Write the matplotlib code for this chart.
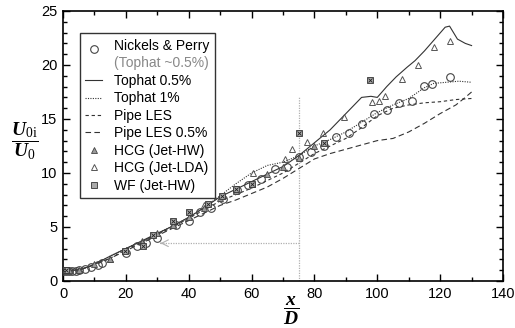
#!/usr/bin/env python3
"""Centreline velocity decay U0i/U0 against x/D for jet simulations and experiments."""

import matplotlib

matplotlib.use("Agg")
import matplotlib.pyplot as plt
from matplotlib.legend_handler import HandlerLine2D
from matplotlib.lines import Line2D
from matplotlib.ticker import MultipleLocator

# Tophat 0.5% (solid line)
TOP05_X = [0, 3, 5, 8, 11, 15, 20, 25, 30, 35, 40, 45, 50, 55, 60, 65, 70, 75, 80, 85,
           89, 92, 95, 98, 100, 103, 106, 109.5, 112, 115, 118, 121.6, 123, 125.5, 128, 130]
TOP05_Y = [1.0, 1.0, 1.05, 1.3, 1.7, 2.3, 3.0, 3.7, 4.4, 5.1, 5.9, 6.8, 7.8, 8.5, 9.2, 9.9, 10.6, 11.6, 12.8, 14.0,
           15.2, 16.1, 17.0, 17.1, 17.0, 18.0, 18.9, 19.8, 20.4, 21.3, 22.3, 23.5, 23.6, 22.4, 22.0, 21.8]

# Tophat 1% (dotted line)
TOP1_X = [0, 3, 5, 8, 11, 15, 20, 25, 30, 35, 40, 45, 50, 55, 60, 65, 70, 75, 80, 85,
          90, 95, 100, 105, 110, 115, 118, 122, 126, 130]
TOP1_Y = [1.0, 1.0, 1.05, 1.3, 1.7, 2.3, 3.0, 3.7, 4.4, 5.1, 5.9, 6.8, 7.9, 9.0, 10.0, 10.7, 11.0, 11.6, 12.5, 13.1,
          13.8, 14.7, 15.6, 16.3, 16.9, 17.9, 18.3, 18.4, 18.5, 18.4]

# Pipe LES (dashed)
PIPE_X = [0, 5, 10, 15, 20, 25, 30, 35, 40, 45, 50, 55, 60, 65, 70, 75, 80, 85, 90, 95,
          100, 105, 110, 115, 120, 125, 130]
PIPE_Y = [1.0, 1.0, 1.5, 2.1, 2.9, 3.6, 4.3, 5.0, 5.8, 6.6, 7.4, 8.0, 8.6, 9.3, 10.0, 10.9, 11.8, 12.5, 13.2, 14.2,
          15.3, 16.0, 16.3, 16.5, 16.6, 16.8, 16.9]

# Pipe LES 0.5% (long dashed)
PIPE05_X = [0, 5, 10, 15, 20, 25, 30, 35, 40, 45, 50, 55, 60, 65, 70, 75, 80, 85, 90, 95,
            100, 105, 110, 115, 120, 125, 128, 130]
PIPE05_Y = [1.0, 1.0, 1.5, 2.1, 2.8, 3.5, 4.2, 4.9, 5.6, 6.3, 7.0, 7.5, 8.1, 8.7, 9.5, 10.4, 11.3, 11.8, 12.2, 12.6,
            13.0, 13.2, 13.8, 14.6, 15.5, 16.3, 17.0, 17.5]

# Nickels & Perry (circles)
NP_X = [0, 1, 2, 3, 4, 5, 7, 9, 11, 12.5, 20, 23.5, 26.5, 30, 36, 40, 43.5, 47, 51, 55.4,
        59, 63, 67.5, 71.3, 75, 79, 83, 87, 91, 95, 99, 103, 107, 111, 115, 117.5, 123]
NP_Y = [0.95, 0.95, 0.95, 0.95, 0.95, 1.0, 1.1, 1.3, 1.5, 1.7, 2.6, 3.2, 3.5, 4.0, 5.2, 5.6, 6.4, 6.8, 7.6, 8.4,
        8.9, 9.4, 10.4, 10.6, 11.5, 11.9, 12.5, 13.3, 13.7, 14.5, 15.5, 15.8, 16.5, 16.7, 18.05, 18.2, 18.9]

# HCG (Jet-HW) (small filled triangles)
HCGHW_X = [0, 1, 2, 5, 10, 15, 20, 25, 30, 35, 40, 45, 50, 55, 60, 65, 70, 75, 80]
HCGHW_Y = [1.0, 1.0, 1.0, 1.0, 1.6, 2.0, 2.9, 3.6, 4.4, 5.2, 5.9, 6.8, 7.7, 8.3, 9.0, 9.9, 10.6, 11.4, 12.5]

# HCG (Jet-LDA) (open triangles)
HCGLDA_X = [15, 25, 35, 45, 55, 60.5, 70.7, 73, 77.6, 82.8, 89.5, 98.4, 100.6, 102.5, 108, 113, 118, 123]
HCGLDA_Y = [2.0, 3.7, 5.3, 7.0, 8.4, 10.0, 11.3, 12.2, 12.9, 13.7, 15.2, 16.6, 16.7, 17.1, 18.7, 20.0, 21.7, 22.2]

# WF (Jet-HW) (crossed squares)
WF_X = [0, 1, 19.7, 25.5, 28.7, 35, 40, 46, 50.6, 55, 60, 75, 83, 97.7]
WF_Y = [1.0, 1.0, 2.8, 3.2, 4.3, 5.6, 6.4, 7.1, 7.9, 8.5, 9.0, 13.7, 12.8, 18.6]

REF_X = 75
REF_TOP = 17.0
ARROW_Y = 3.5
ARROW_END = 31


class LoweredHandler(HandlerLine2D):
    """Draw the marker half a row lower so it sits between two label lines."""

    def create_artists(self, legend, orig_handle, xdescent, ydescent, width, height, fontsize, trans):
        return super().create_artists(legend, orig_handle, xdescent, ydescent + 0.6 * fontsize,
                                      width, height, fontsize, trans)


def setup_style() -> None:
    plt.rcParams["font.family"] = ["Liberation Sans", "DejaVu Sans"]
    plt.rcParams["mathtext.fontset"] = "custom"
    plt.rcParams["mathtext.rm"] = "Liberation Serif"
    plt.rcParams["mathtext.it"] = "Liberation Serif:italic"
    plt.rcParams["mathtext.bf"] = "Liberation Serif:bold:italic"


def main() -> None:
    setup_style()
    fig = plt.figure(figsize=(5.15, 3.28), dpi=100)
    ax = fig.add_axes([63 / 515, 1 - 281 / 328, 440 / 515, 270 / 328])

    line_kw = dict(color="#333333", lw=0.8)
    h_t05, = ax.plot(TOP05_X, TOP05_Y, ls="-", **line_kw)
    h_t1, = ax.plot(TOP1_X, TOP1_Y, ls=(0, (1, 1.2)), **line_kw)
    h_pipe, = ax.plot(PIPE_X, PIPE_Y, ls=(0, (3, 2.5)), **line_kw)
    h_pipe05, = ax.plot(PIPE05_X, PIPE05_Y, ls=(0, (5, 3)), **line_kw)

    h_np, = ax.plot(NP_X, NP_Y, ls="none", marker="o", ms=5.5, mfc="none", mec="#444444", mew=0.8, zorder=3)
    h_hw, = ax.plot(HCGHW_X, HCGHW_Y, ls="none", marker="^", ms=3.8, mfc="#999999", mec="#444444",
                    mew=0.6, zorder=4)
    h_lda, = ax.plot(HCGLDA_X, HCGLDA_Y, ls="none", marker="^", ms=5, mfc="none", mec="#555555",
                     mew=0.7, zorder=3)
    h_wf, = ax.plot(WF_X, WF_Y, ls="none", marker="s", ms=3.8, mfc="#aaaaaa", mec="#333333", mew=0.6, zorder=4)
    ax.plot(WF_X, WF_Y, ls="none", marker="x", ms=3.0, mec="#222222", mew=0.6, zorder=5)

    # reference marks at x/D = 75
    ax.plot([REF_X, REF_X], [0, REF_TOP], color="#b0b0b0", lw=0.9, ls=(0, (1, 1)), zorder=1)
    ax.plot([REF_X, ARROW_END], [ARROW_Y, ARROW_Y], color="#b0b0b0", lw=0.9, ls=(0, (1, 1)), zorder=1)
    ax.annotate("", xy=(ARROW_END, ARROW_Y), xytext=(ARROW_END + 1, ARROW_Y),
                arrowprops=dict(arrowstyle="->", color="#b0b0b0", lw=0.8, mutation_scale=12))

    ax.set_xlim(0, 140)
    ax.set_ylim(0, 25)
    ax.xaxis.set_major_locator(MultipleLocator(20))
    ax.xaxis.set_minor_locator(MultipleLocator(10))
    ax.yaxis.set_major_locator(MultipleLocator(5))
    ax.yaxis.set_minor_locator(MultipleLocator(1))
    ax.tick_params(which="both", direction="in", top=True, right=True, labelsize=10.5, width=1.0, pad=4)
    ax.tick_params(which="major", length=5)
    ax.tick_params(which="minor", length=3)
    for sp in ax.spines.values():
        sp.set_linewidth(1.2)

    blank = Line2D([], [], ls="none", marker="none")
    handles = [h_np, blank, h_t05, h_t1, h_pipe, h_pipe05, h_hw, h_lda, h_wf]
    labels = ["Nickels & Perry", "(Tophat ~0.5%)", "Tophat 0.5%", "Tophat 1%", "Pipe LES",
              "Pipe LES 0.5%", "HCG (Jet-HW)", "HCG (Jet-LDA)", "WF (Jet-HW)"]
    leg = ax.legend(handles, labels, handler_map={h_np: LoweredHandler()},
                    loc="upper left", bbox_to_anchor=(0.038, 0.917), borderaxespad=0,
                    fontsize=10, labelspacing=0.25, handlelength=1.2, handletextpad=0.85,
                    borderpad=0.4, fancybox=False, frameon=True)
    leg.get_frame().set_edgecolor("black")
    leg.get_frame().set_linewidth(1.0)
    leg.get_texts()[1].set_color("#888888")

    fig.text(25 / 515, 1 - 141 / 328, r"$\dfrac{\mathbf{U}_{\mathrm{0i}}}{\mathbf{U}_{\mathrm{0}}}$",
             fontsize=14, ha="center", va="center")
    fig.text(291 / 515, 1 - 311 / 328, r"$\dfrac{\mathbf{x}}{\mathbf{D}}$",
             fontsize=14, ha="center", va="center")

    fig.savefig("out.png", dpi=100)
    plt.close(fig)


if __name__ == "__main__":
    main()
